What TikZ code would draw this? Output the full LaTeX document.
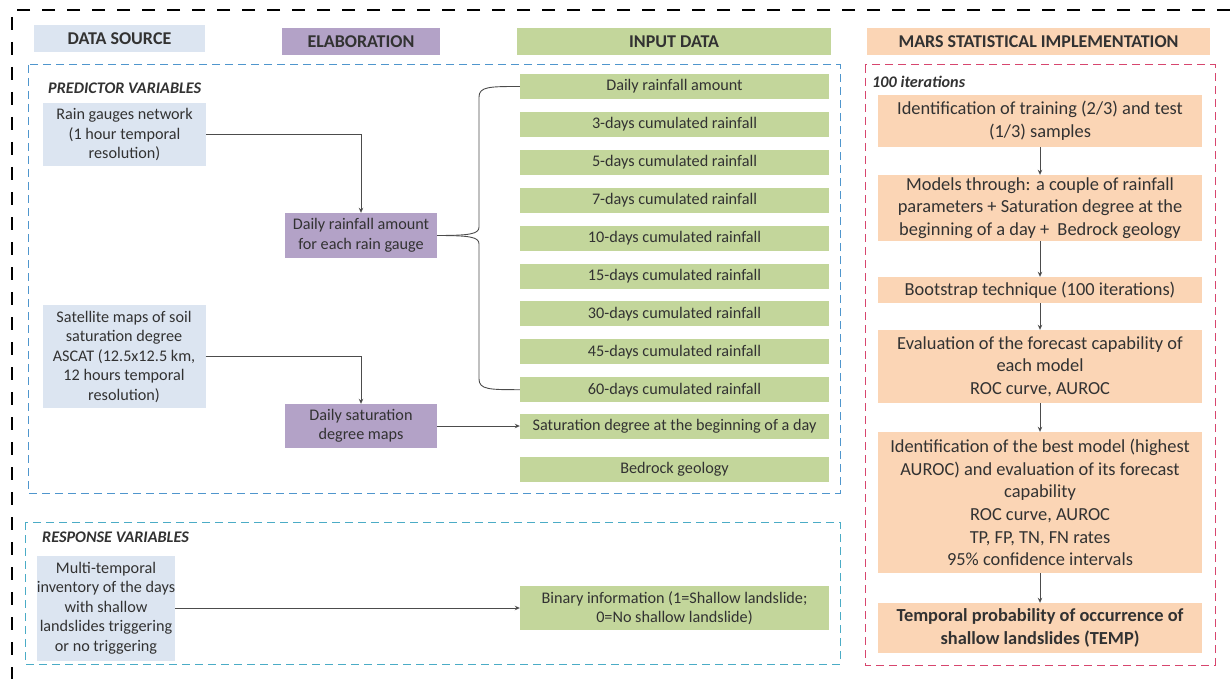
\documentclass[tikz,border=0pt]{standalone}
\usepackage{fontspec}
\setmainfont{Carlito}
\usetikzlibrary{arrows.meta}
\definecolor{srcblue}{RGB}{220,229,241}
\definecolor{elabpurple}{RGB}{179,162,199}
\definecolor{ingreen}{RGB}{195,214,155}
\definecolor{marsorange}{RGB}{251,213,181}
\definecolor{predblue}{RGB}{79,150,205}
\definecolor{respcyan}{RGB}{75,172,198}
\definecolor{marsred}{RGB}{215,70,110}
\definecolor{txtgrey}{RGB}{50,50,50}
\tikzset{
  box/.style={inner sep=0pt, align=center, text=txtgrey},
  txtsmall/.style={font=\fontsize{16.2}{19.5}\selectfont},
  txtbig/.style={font=\fontsize{18.4}{22.6}\selectfont},
  header/.style={box, font=\fontsize{18}{20}\selectfont\bfseries, minimum height=27pt},
  srcbox/.style={box, txtsmall, fill=srcblue, minimum width=163pt},
  elabbox/.style={box, txtsmall, fill=elabpurple, minimum width=152pt},
  inbox/.style={box, txtsmall, fill=ingreen, minimum width=309pt, minimum height=25pt},
  marsbox/.style={box, txtbig, fill=marsorange, minimum width=324pt},
  conn/.style={draw=black!70, line width=0.9pt},
  arr/.style={conn, -{Stealth[length=5pt,width=4.5pt]}},
  groupframe/.style={line width=1pt, dash pattern=on 8pt off 5pt},
  grouplabel/.style={anchor=west, inner sep=0pt, text=txtgrey,
    font=\fontsize{16.2}{19}\selectfont\bfseries\itshape},
}
\begin{document}
\begin{tikzpicture}[x=1pt,y=-1pt]
\useasboundingbox (0,0) rectangle (1230,679);
% outer frame
\draw[line width=2.6pt, dash pattern=on 13pt off 12pt] (1230,10)--(12,10)--(12,679);
% column headers
\node[header, fill=srcblue, minimum width=171pt] (hdSrc) at (119.5,38.5) {DATA SOURCE};
\node[header, fill=elabpurple, minimum width=158pt] (hdElab) at (361,41.5) {ELABORATION};
\node[header, fill=ingreen, minimum width=314pt] (hdIn) at (674,41.5) {INPUT DATA};
\node[header, fill=marsorange, minimum width=343pt] (hdMars) at (1038.5,41.5) {MARS STATISTICAL IMPLEMENTATION};
% groups
\draw[groupframe, draw=predblue] (28,65) rectangle (840,493);
\draw[groupframe, draw=respcyan] (25,522) rectangle (840,664);
\draw[groupframe, draw=marsred] (865,65) rectangle (1215,665);
\node[grouplabel] (lbPred) at (48,88) {PREDICTOR VARIABLES};
\node[grouplabel] (lbResp) at (42,537) {RESPONSE VARIABLES};
\node[grouplabel] (lbIter) at (872,82) {100 iterations};
% data source
\node[srcbox, minimum height=63pt] (srcRain) at (124.5,134.5) {Rain gauges network\\(1 hour temporal\\resolution)};
\node[srcbox, minimum height=103pt] (srcSat) at (124,356.5) {Satellite maps of soil\\saturation degree\\ASCAT (12.5x12.5 km,\\12 hours temporal\\resolution)};
\node[srcbox, minimum width=138pt, minimum height=105pt] (srcInv) at (106,608) {Multi-temporal\\inventory of the days\\with shallow\\landslides triggering\\or no triggering};
% elaboration
\node[elabbox, minimum height=45pt] (elRain) at (361,235.5) {Daily rainfall amount\\for each rain gauge};
\node[elabbox, minimum height=44pt] (elSat) at (361,426) {Daily saturation\\degree maps};
% input data
\foreach \lab [count=\i from 0] in {Daily rainfall amount, 3-days cumulated rainfall,
  5-days cumulated rainfall, 7-days cumulated rainfall, 10-days cumulated rainfall,
  15-days cumulated rainfall, 30-days cumulated rainfall, 45-days cumulated rainfall,
  60-days cumulated rainfall}
  \node[inbox] (in\i) at (674.5,{86.5+37.9*\i}) {\lab};
\node[inbox] (inSat) at (674.5,426) {Saturation degree at the beginning of a day};
\node[inbox] (inGeo) at (674.5,469) {Bedrock geology};
\node[inbox, minimum height=44pt] (inBin) at (674.5,608) {Binary information (1=Shallow landslide;\\0=No shallow landslide)};
% MARS
\node[marsbox, minimum height=52pt] (m1) at (1040,121) {Identification of training (2/3) and test\\(1/3) samples};
\node[marsbox, minimum height=66pt] (m2) at (1040,208) {Models through: a couple of rainfall\\parameters + Saturation degree at the\\beginning of a day +\ \ Bedrock geology};
\node[marsbox, minimum height=26pt] (m3) at (1040,290) {Bootstrap technique (100 iterations)};
\node[marsbox, minimum height=73pt] (m4) at (1040,366.5) {Evaluation of the forecast capability of\\each model\\ROC curve, AUROC};
\node[marsbox, minimum height=141pt] (m5) at (1040,502.5) {Identification of the best model (highest\\AUROC) and evaluation of its forecast\\capability\\ROC curve, AUROC\\TP, FP, TN, FN rates\\95\% confidence intervals};
\node[marsbox, minimum height=50pt, font=\fontsize{18.4}{22.6}\selectfont\bfseries] (m6) at (1040,628) {Temporal probability of occurrence of\\shallow landslides (TEMP)};
% connectors
\draw[arr] (srcRain.east) -| (elRain.north);
\draw[arr] (srcSat.east) -| (elSat.north);
\draw[arr] (elSat.east) -- (inSat.west);
\draw[arr] (srcInv.east) -- (inBin.west);
\draw[conn] (in0.west) .. controls (490,86.5) and (479,86.5) .. (479,97) -- (479,227)
  .. controls (479,234) and (470,235.5) .. (elRain.east);
\draw[conn] (elRain.east) .. controls (470,235.5) and (479,237) .. (479,244) -- (479,379)
  .. controls (479,389.7) and (490,389.7) .. (in8.west);
\foreach \a/\b in {m1/m2, m2/m3, m3/m4, m4/m5, m5/m6}
  \draw[arr] (\a.south) -- (\b.north);
\end{tikzpicture}
\end{document}
